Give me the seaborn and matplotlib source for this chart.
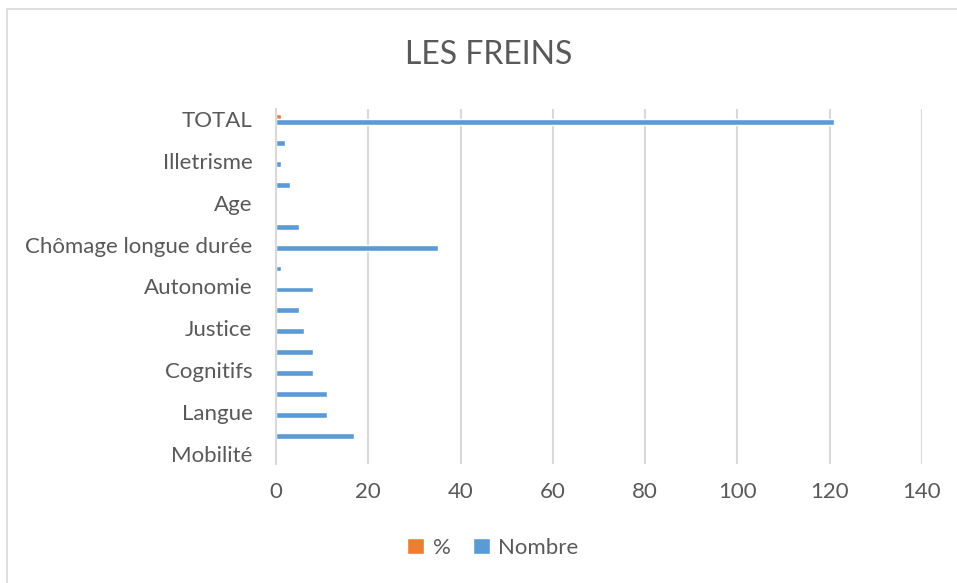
import matplotlib
matplotlib.use("Agg")
import matplotlib.pyplot as plt
from matplotlib.patches import Rectangle, Patch
import seaborn as sns
import pandas as pd

# data (top to bottom, as in the chart; unlabeled rows keep an empty label)
labels = ["TOTAL", "", "Illetrisme", "", "Age", "", "Chômage longue durée", "",
          "Autonomie", "", "Justice", "", "Cognitifs", "", "Langue", "", "Mobilité"]
nombre = [121, 2, 1, 3, 0, 5, 35, 1, 8, 5, 6, 8, 8, 11, 11, 17, 0]
pct = [1.0, 0.02, 0.01, 0.02, 0.0, 0.04, 0.29, 0.01, 0.07, 0.04, 0.05, 0.07,
       0.07, 0.09, 0.09, 0.14, 0.0]
series = ["%", "Nombre"]
colors = {"%": "#ED7D31", "Nombre": "#5B9BD5"}

rows = []
for i in range(len(labels)):
    rows.append({"pos": i, "serie": "%", "val": pct[i]})
    rows.append({"pos": i, "serie": "Nombre", "val": nombre[i]})
df = pd.DataFrame(rows)

sns.set_style("white")
plt.rcParams["font.family"] = ["Lato", "DejaVu Sans"]
txt = "#595959"
grid = "#D9D9D9"

fig = plt.figure(figsize=(9.57, 5.83), dpi=100)
ax = fig.add_axes([276 / 957, 1 - 464 / 583, (922 - 276) / 957, (464 - 109) / 583])

sns.barplot(data=df, x="val", y="pos", hue="serie", hue_order=series,
            palette=colors, orient="h", width=0.56, ax=ax, legend=False,
            saturation=1)

ax.set_xlim(0, 140)
ax.set_xticks(range(0, 141, 20))
ax.set_yticks(range(len(labels)))
ax.set_yticklabels(labels)
ax.set_ylim(len(labels) - 0.5, -0.5)
ax.set_xlabel("")
ax.set_ylabel("")
ax.xaxis.grid(True, color=grid, linewidth=1.5)
ax.set_axisbelow(True)
for s in ["top", "right", "bottom"]:
    ax.spines[s].set_visible(False)
ax.spines["left"].set_color(grid)
ax.spines["left"].set_linewidth(1.5)
ax.tick_params(axis="y", length=0, pad=17, labelsize=16, labelcolor=txt)
ax.tick_params(axis="x", length=0, pad=13, labelsize=16, labelcolor=txt)

fig.text(489 / 957, 1 - 55 / 583, "LES FREINS", ha="center", va="center",
         fontsize=23, color=txt)

handles = [Patch(facecolor=colors[s], label=s) for s in series]
fig.legend(handles=handles, loc="center", bbox_to_anchor=(493 / 957, 1 - 548 / 583),
           ncol=2, frameon=False, fontsize=16, labelcolor=txt,
           handlelength=0.75, handleheight=0.75, handletextpad=0.4, columnspacing=1.0)

# chart frame
fig.patches.append(Rectangle((7 / 957, -0.1), 1.2, 1 - 9 / 583 + 0.1,
                             transform=fig.transFigure, fill=False,
                             edgecolor=grid, linewidth=1.2))

fig.savefig("out.png", dpi=100)
